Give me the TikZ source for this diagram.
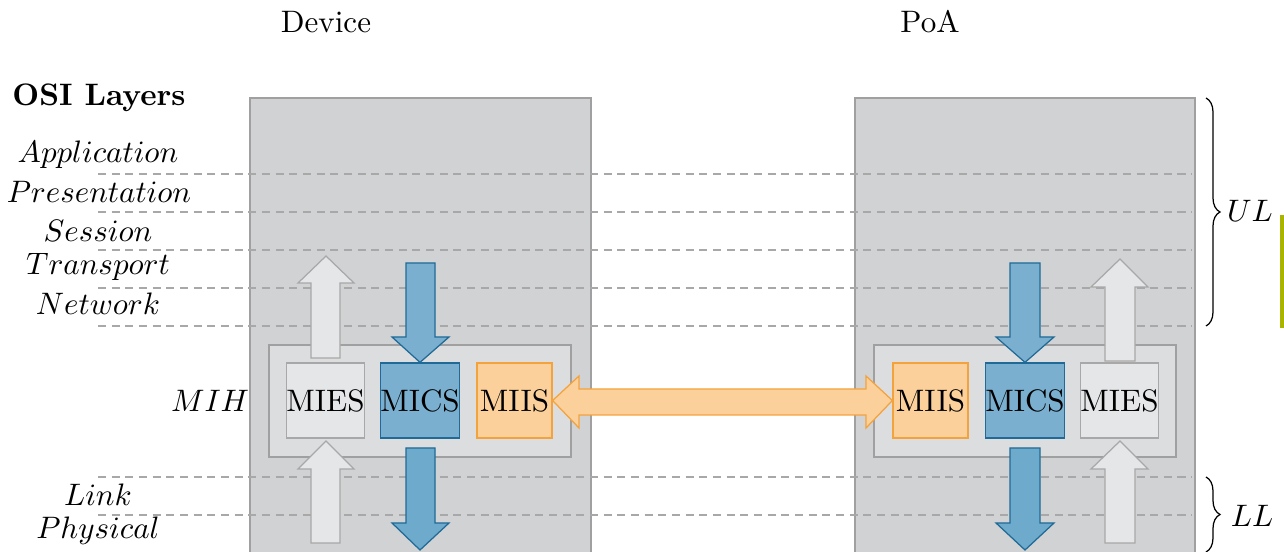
\documentclass[tikz,border=0pt]{standalone}
\usetikzlibrary{decorations.pathreplacing}
\definecolor{layerfill}{HTML}{D1D2D4}
\definecolor{layerdraw}{HTML}{A0A0A0}
\definecolor{dashdraw}{HTML}{A8A8A8}
\definecolor{mihfill}{HTML}{DCDDDF}
\definecolor{miesfill}{HTML}{E5E6E8}
\definecolor{miesdraw}{HTML}{A8A8A8}
\definecolor{micsfill}{HTML}{7BAFD0}
\definecolor{micsdraw}{HTML}{1F6A96}
\definecolor{micsdark}{HTML}{6EAACB}
\definecolor{miisfill}{HTML}{FCD09A}
\definecolor{miisdraw}{HTML}{F4A23C}
\definecolor{olivebar}{HTML}{A9B400}
\tikzset{
  devbox/.style={fill=layerfill, draw=layerdraw, line width=0.4pt},
  mihbox/.style={fill=mihfill, draw=layerdraw, line width=0.4pt},
  layerline/.style={draw=dashdraw, line width=0.4pt, dash pattern=on 2.6pt off 1.8pt},
  svc/.style={minimum size=24.15pt, inner sep=0pt, line width=0.4pt, font=\normalsize},
  miesbox/.style={svc, fill=miesfill, draw=miesdraw},
  micsbox/.style={svc, fill=micsfill, draw=micsdraw},
  miisbox/.style={svc, fill=miisfill, draw=miisdraw},
  miesarrow/.style={fill=miesfill, draw=miesdraw, line width=0.4pt},
  micsarrow/.style={fill=micsfill, draw=micsdraw, line width=0.4pt},
  micsarrowdark/.style={fill=micsdark, draw=micsdraw, line width=0.4pt},
  miisarrow/.style={fill=miisfill, draw=miisdraw, line width=0.4pt},
  layerlabel/.style={anchor=base, inner sep=0pt},
  bracestyle/.style={decorate, decoration={brace, amplitude=4.5pt}, line width=0.4pt},
}
\begin{document}
\begin{tikzpicture}[x=0.322pt,y=-0.322pt]
\useasboundingbox (0,0) rectangle (1284,552);
\begin{scope}
\clip (0,0) rectangle (1284,552);
% device boxes
\draw[devbox] (250,98) rectangle (591,580);
\draw[devbox] (855,98) rectangle (1195,580);
% layer lines
\foreach \yy in {174,212,250,288,326,477,515} \draw[layerline] (98,\yy) -- (1192,\yy);
% MIH boxes
\draw[mihbox] (269,345) rectangle (571,457);
\draw[mihbox] (874,345) rectangle (1176,457);
% service boxes
\node[miesbox] (miesL) at (325.5,400.5) {MIES};
\node[micsbox] (micsL) at (420,400.5) {MICS};
\node[miisbox] (miisL) at (514.5,400.5) {MIIS};
\node[miisbox] (miisR) at (930.5,400.5) {MIIS};
\node[micsbox] (micsR) at (1025,400.5) {MICS};
\node[miesbox] (miesR) at (1119.5,400.5) {MIES};
% left arrows
\draw[miesarrow] (311,358) -- (311,283) -- (298,283) -- (326,256) -- (354,283) -- (340,283) -- (340,358) -- cycle;
\draw[miesarrow] (311,543) -- (311,469) -- (298,469) -- (326,441) -- (354,469) -- (340,469) -- (340,543) -- cycle;
\draw[micsarrow] (406,263) -- (406,337) -- (392,337) -- (micsL.north) -- (449,337) -- (435,337) -- (435,263) -- cycle;
\draw[micsarrowdark] (406,448) -- (406,523) -- (392,523) -- (420,550) -- (449,523) -- (435,523) -- (435,448) -- cycle;
% right arrows
\draw[micsarrow] (1010,263) -- (1010,337) -- (996,337) -- (micsR.north) -- (1054,337) -- (1040,337) -- (1040,263) -- cycle;
\draw[micsarrowdark] (1010,448) -- (1010,523) -- (996,523) -- (1025,550) -- (1054,523) -- (1040,523) -- (1040,448) -- cycle;
\draw[miesarrow] (1105,361) -- (1105,287) -- (1091,287) -- (1120,259) -- (1148,287) -- (1135,287) -- (1135,361) -- cycle;
\draw[miesarrow] (1105,543) -- (1105,469) -- (1091,469) -- (1120,441) -- (1148,469) -- (1135,469) -- (1135,543) -- cycle;
% double arrow between MIIS
\draw[miisarrow] (miisL.east) -- (579,376) -- (579,389) -- (866,389) -- (866,376) -- (miisR.west) -- (866,428) -- (866,415) -- (579,415) -- (579,428) -- cycle;
% olive bar
\fill[olivebar] (1280,215) rectangle (1284,328);
\end{scope}
% titles
\node[layerlabel] (tdev) at (326,33) {Device};
\node[layerlabel] (tpoa) at (930,33) {PoA};
\node[layerlabel] (osi) at (99,106) {\bfseries OSI Layers};
\node[layerlabel] (lapp) at (98,163) {$Application$};
\node[layerlabel] (lpre) at (99,203) {$Presentation$};
\node[layerlabel] (lses) at (98,242) {$Session$};
\node[layerlabel] (ltra) at (98,275) {$Transport$};
\node[layerlabel] (lnet) at (98,315) {$Network$};
\node[layerlabel] (llnk) at (98,506) {$Link$};
\node[layerlabel] (lphy) at (98,539) {$Physical$};
\node[layerlabel] (lmih) at (210,412) {$MIH$};
% braces
\coordinate (ulT) at (1206,98);
\coordinate (ulB) at (1206,326);
\coordinate (llT) at (1206,477);
\coordinate (llB) at (1206,552);
\draw[bracestyle] (ulT) -- (ulB);
\draw[bracestyle] (llT) -- (llB);
\node[layerlabel] (ul) at (1250,222) {$UL$};
\node[layerlabel] (ll) at (1252,527) {$LL$};
\end{tikzpicture}
\end{document}
